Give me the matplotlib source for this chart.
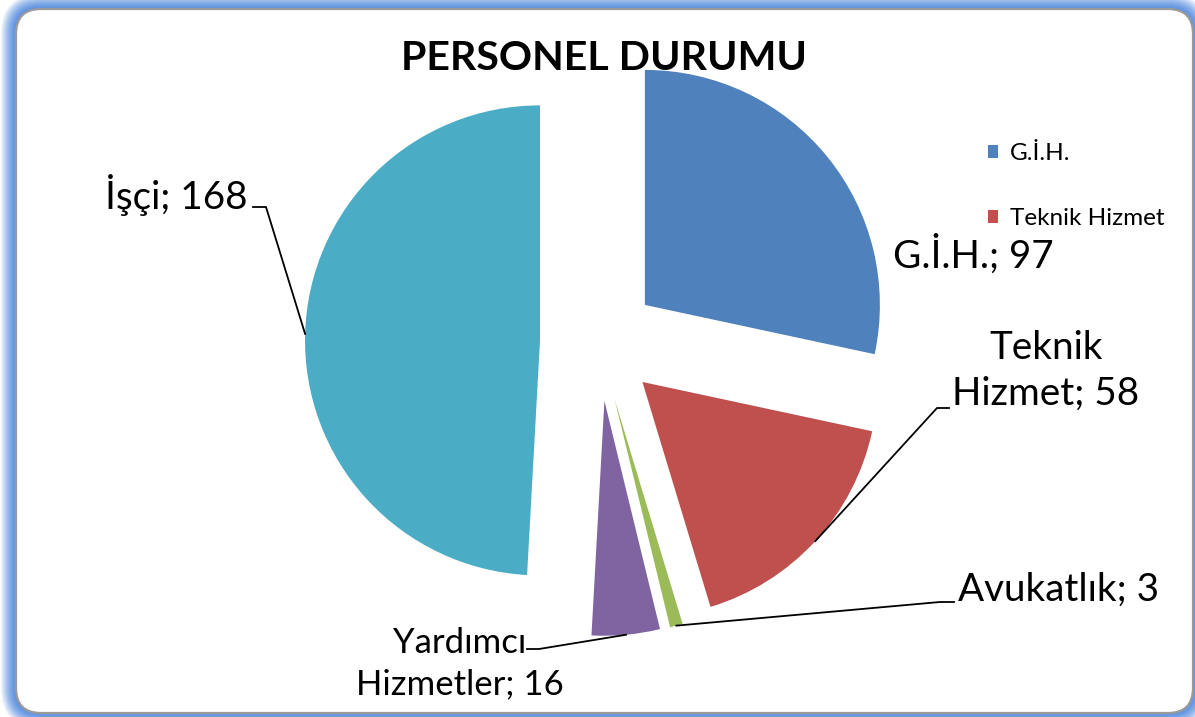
import matplotlib
matplotlib.use("Agg")
import matplotlib.pyplot as plt
from matplotlib.patches import FancyBboxPatch
import numpy as np

# ---- data ----
categories = ["G.İ.H.", "Teknik Hizmet", "Avukatlık", "Yardımcı Hizmetler", "İşçi"]
values = [97, 58, 3, 16, 168]
colors = ["#4F81BD", "#C0504D", "#9BBB59", "#8064A2", "#4BACC6"]
title = "PERSONEL DURUMU"
legend_items = ["G.İ.H.", "Teknik Hizmet"]

W, H = 1195, 717
FONT = ["Lato", "DejaVu Sans"]

fig = plt.figure(figsize=(W / 100, H / 100), dpi=100)
ax = fig.add_axes([0, 0, 1, 1])

# ---- frame with blue glow ----
x0, y0, x1, y1 = 16, 4, 1193, 708
glow = np.array([0x5E, 0x92, 0xE0]) / 255.0
N = 16
for i in range(N, 0, -1):
    t = i / N
    c = glow + (1 - glow) * (t ** 1.6)
    p = FancyBboxPatch((x0 - i, y0 - i), (x1 - x0) + 2 * i, (y1 - y0) + 2 * i,
                       boxstyle=f"round,pad=0,rounding_size={25 + i}",
                       facecolor=c, edgecolor="none", zorder=0)
    ax.add_patch(p)
frame = FancyBboxPatch((x0, y0), x1 - x0, y1 - y0,
                       boxstyle="round,pad=0,rounding_size=25",
                       facecolor="white", edgecolor="#9A9A9A", linewidth=1.6, zorder=1)
ax.add_patch(frame)

# ---- pie ----
R = 235
wedges, _ = ax.pie(values, colors=colors, startangle=90, counterclock=False,
                   explode=[59] * len(values), radius=R, center=(599, H - 342),
                   wedgeprops=dict(linewidth=0, zorder=2))
for w in wedges:
    w.set_zorder(2)

ax.set_xlim(0, W)
ax.set_ylim(0, H)
ax.set_aspect("equal")
ax.axis("off")


def arc_mid(w):
    th = np.deg2rad((w.theta1 + w.theta2) / 2)
    cx, cy = w.center
    return cx + w.r * np.cos(th), cy + w.r * np.sin(th)


def Y(y):
    return H - y


lab_fs = 27.8
lab_fs_small = 25

# İşçi
ax.text(248, Y(195), f"{categories[4]}; {values[4]}", ha="right", va="center",
        fontsize=lab_fs, family=FONT, zorder=5)
px, py = arc_mid(wedges[4])
ax.plot([253, 266, px], [Y(207), Y(207), py], color="black", lw=1.3, zorder=4)

# G.İ.H.
ax.text(893, Y(255), f"{categories[0]}; {values[0]}", ha="left", va="center",
        fontsize=lab_fs, family=FONT, zorder=5)

# Teknik Hizmet
ax.text(1046, Y(371), f"Teknik\nHizmet; {values[1]}", ha="center", va="center",
        fontsize=lab_fs, family=FONT, linespacing=1.36, zorder=5)
px, py = arc_mid(wedges[1])
ax.plot([949, 937, px], [Y(408), Y(408), py], color="black", lw=1.3, zorder=4)

# Avukatlık
ax.text(958, Y(590), f"{categories[2]}; {values[2]}", ha="left", va="center",
        fontsize=lab_fs, family=FONT, zorder=5)
px, py = arc_mid(wedges[2])
ax.plot([954, 940, px], [Y(602), Y(602), py], color="black", lw=1.3, zorder=4)

# Yardımcı Hizmetler
ax.text(460, Y(664), f"Yardımcı\nHizmetler; {values[3]}", ha="center", va="center",
        fontsize=lab_fs_small, family=FONT, linespacing=1.36, zorder=5)
px, py = arc_mid(wedges[3])
ax.plot([527, 539, px], [Y(649), Y(649), py], color="black", lw=1.3, zorder=4)

# ---- title ----
ax.text(604, Y(58), title, ha="center", va="center", fontsize=29.6, fontweight="bold",
        family=FONT, zorder=6)

# ---- legend (first two entries visible) ----
leg = ax.legend(wedges[:2], legend_items, loc="upper left",
                bbox_to_anchor=(988 / W, 1 - 143 / H), bbox_transform=fig.transFigure,
                frameon=False, prop={"family": FONT, "size": 17.5},
                handlelength=0.42, handleheight=0.42, handletextpad=0.5,
                labelspacing=1.82, borderpad=0, borderaxespad=0)
leg.set_zorder(6)

fig.savefig("out.png", dpi=100)
